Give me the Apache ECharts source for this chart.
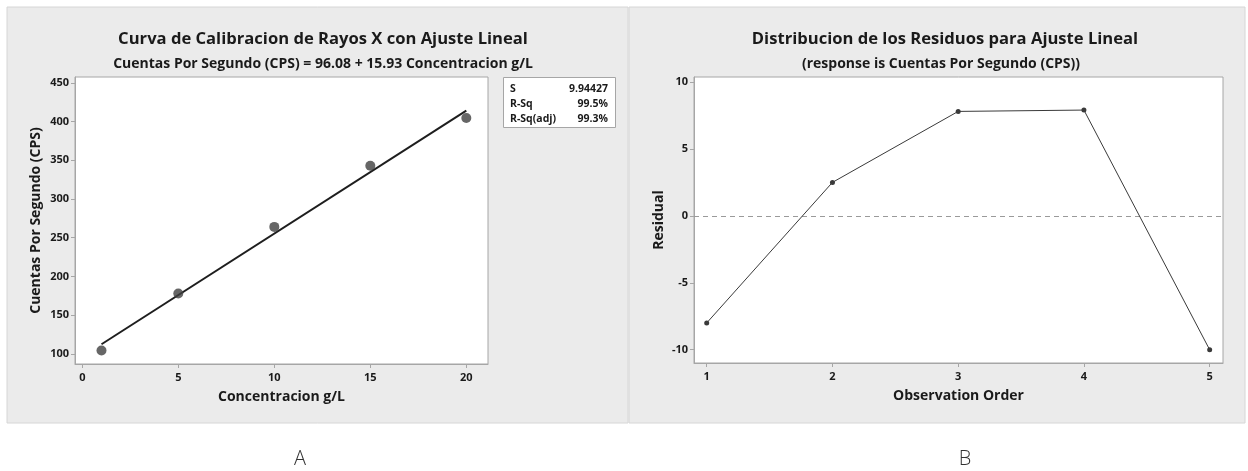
<!DOCTYPE html>
<html>
<head>
<meta charset="utf-8">
<script src="https://cdn.jsdelivr.net/npm/echarts@6/dist/echarts.min.js"></script>
<style>
  html, body { margin: 0; padding: 0; background: #ffffff; }
  #chart { width: 1248px; height: 471px; }
</style>
</head>
<body>
<div id="chart"></div>
<script>
// ---- Data ----
var concentration = [1, 5, 10, 15, 20];
var cps = [104.5, 178, 264, 343, 404.5];
var fitX = [1, 20];
var fitY = [112.5, 414];
var observationOrder = [1, 2, 3, 4, 5];
var residuals = [-8.0, 2.5, 7.8, 7.9, -10.0];
var residualRef = 0;
var leftXTicks = [0, 5, 10, 15, 20];
var leftYTicks = [100, 150, 200, 250, 300, 350, 400, 450];
var rightXTicks = [1, 2, 3, 4, 5];
var rightYTicks = [-10, -5, 0, 5, 10];
var statNames = ['S', 'R-Sq', 'R-Sq(adj)'];
var statValues = ['9.94427', '99.5%', '99.3%'];
var titleA = 'Curva de Calibracion de Rayos X con Ajuste Lineal';
var subtitleA = 'Cuentas Por Segundo (CPS) = 96.08 + 15.93 Concentracion g/L';
var titleB = 'Distribucion de los Residuos para Ajuste Lineal';
var subtitleB = '(response is Cuentas Por Segundo (CPS))';
var panelLabels = ['A', 'B'];

var FONT = '"Open Sans", sans-serif';
var TXT = '#1a1a1a';
var AXC = '#a6a6a6';

function pairs(xs, ys) { return xs.map(function (x, i) { return [x, ys[i]]; }); }

function axisCommon(ticks, margin) {
  return {
    type: 'value',
    axisLine: { show: true, onZero: false, lineStyle: { color: AXC, width: 1 } },
    axisTick: { show: true, inside: false, length: 4, lineStyle: { color: AXC }, customValues: ticks },
    axisLabel: { customValues: ticks, margin: margin, color: TXT, fontFamily: FONT, fontWeight: 'bold', fontSize: 11 },
    splitLine: { show: false },
    nameLocation: 'middle',
    nameTextStyle: { color: TXT, fontFamily: FONT, fontWeight: 'bold', fontSize: 14 }
  };
}

var chart = echarts.init(document.getElementById('chart'), null, { renderer: 'canvas' });

var statsTexts = [];
statNames.forEach(function (n, i) {
  statsTexts.push({ type: 'text', x: 510, y: 89.5 + i * 15, style: { text: n, fill: TXT, font: 'bold 10.5px ' + FONT, textAlign: 'left', textVerticalAlign: 'middle' } });
  statsTexts.push({ type: 'text', x: 608, y: 89.5 + i * 15, style: { text: statValues[i], fill: TXT, font: 'bold 10.5px ' + FONT, textAlign: 'right', textVerticalAlign: 'middle' } });
});

var xA = axisCommon(leftXTicks, 8);
xA.gridIndex = 0; xA.min = -0.38; xA.max = 21.13; xA.name = 'Concentracion g/L'; xA.nameGap = 26;
var yA = axisCommon(leftYTicks, 6);
yA.gridIndex = 0; yA.min = 87; yA.max = 457.5; yA.name = 'Cuentas Por Segundo (CPS)'; yA.nameGap = 32;
var xB = axisCommon(rightXTicks, 8);
xB.gridIndex = 1; xB.min = 0.899; xB.max = 5.106; xB.name = 'Observation Order'; xB.nameGap = 26;
var yB = axisCommon(rightYTicks, 6);
yB.gridIndex = 1; yB.min = -10.99; yB.max = 10.37; yB.name = 'Residual'; yB.nameGap = 28;

chart.setOption({
  animation: false,
  backgroundColor: '#ffffff',
  title: [
    { text: titleA, left: 318, top: 26, textAlign: 'center', textStyle: { color: TXT, fontFamily: FONT, fontWeight: 'bold', fontSize: 16.6 } },
    { text: subtitleA, left: 318, top: 52, textAlign: 'center', textStyle: { color: TXT, fontFamily: FONT, fontWeight: 'bold', fontSize: 14 } },
    { text: titleB, left: 940, top: 26, textAlign: 'center', textStyle: { color: TXT, fontFamily: FONT, fontWeight: 'bold', fontSize: 16.6 } },
    { text: subtitleB, left: 936, top: 52, textAlign: 'center', textStyle: { color: TXT, fontFamily: FONT, fontWeight: 'bold', fontSize: 14 } }
  ],
  graphic: [
    { type: 'rect', z: -10, shape: { x: 7, y: 7, width: 621, height: 416 }, style: { fill: '#ebebeb', stroke: '#d6d6d6', lineWidth: 1 } },
    { type: 'rect', z: -10, shape: { x: 629, y: 7, width: 616, height: 416 }, style: { fill: '#ebebeb', stroke: '#d6d6d6', lineWidth: 1 } },
    { type: 'rect', shape: { x: 503.5, y: 77.5, width: 112, height: 50 }, style: { fill: '#ffffff', stroke: AXC, lineWidth: 1 } }
  ].concat(statsTexts).concat([
    { type: 'text', x: 300, y: 459, style: { text: panelLabels[0], fill: '#333', font: '300 20px "Open Sans", sans-serif', textAlign: 'center', textVerticalAlign: 'middle' } },
    { type: 'text', x: 965, y: 459, style: { text: panelLabels[1], fill: '#333', font: '300 20px "Open Sans", sans-serif', textAlign: 'center', textVerticalAlign: 'middle' } }
  ]),
  grid: [
    { left: 75, top: 77, width: 413, height: 287, show: true, backgroundColor: '#ffffff', borderColor: AXC, borderWidth: 1 },
    { left: 694, top: 77, width: 529, height: 286, show: true, backgroundColor: '#ffffff', borderColor: AXC, borderWidth: 1 }
  ],
  xAxis: [xA, xB],
  yAxis: [yA, yB],
  series: [
    {
      type: 'line', xAxisIndex: 0, yAxisIndex: 0, data: pairs(fitX, fitY),
      showSymbol: false, symbol: 'none', lineStyle: { color: '#1e1e1e', width: 2 }, z: 2
    },
    {
      type: 'scatter', xAxisIndex: 0, yAxisIndex: 0, data: pairs(concentration, cps),
      symbol: 'circle', symbolSize: 10, itemStyle: { color: '#404040' }, z: 3
    },
    {
      type: 'line', xAxisIndex: 1, yAxisIndex: 1, data: pairs(observationOrder, residuals),
      symbol: 'circle', symbolSize: 5, showSymbol: true, z: 3,
      lineStyle: { color: '#3a3a3a', width: 1 }, itemStyle: { color: '#3a3a3a' },
      markLine: {
        silent: true, symbol: 'none', label: { show: false }, z: 1,
        lineStyle: { color: '#9a9a9a', type: [5, 4], width: 1 },
        data: [{ yAxis: residualRef }]
      }
    }
  ]
});
</script>
</body>
</html>
